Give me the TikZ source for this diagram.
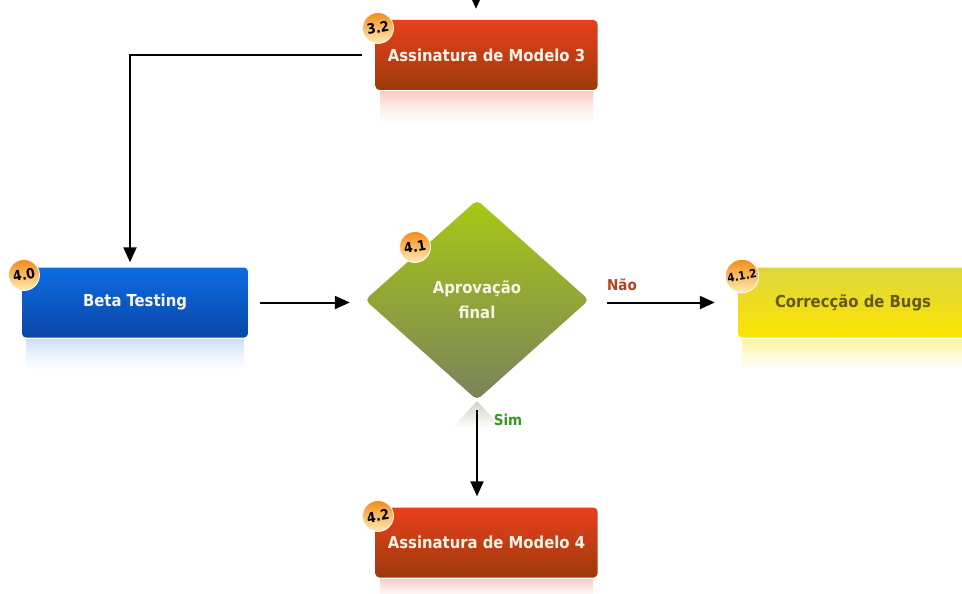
\documentclass[tikz,border=0pt]{standalone}
\usepackage{fontspec}
\setmainfont{DejaVu Sans Condensed}
\usetikzlibrary{shapes.geometric,arrows.meta}
\definecolor{redT}{RGB}{232,64,28}
\definecolor{redB}{RGB}{158,58,12}
\definecolor{bluT}{RGB}{12,108,226}
\definecolor{bluB}{RGB}{10,70,168}
\definecolor{yelT}{RGB}{222,214,64}
\definecolor{yelB}{RGB}{252,228,0}
\definecolor{grnT}{RGB}{168,200,20}
\definecolor{grnB}{RGB}{122,130,92}
\definecolor{txtW}{RGB}{250,244,232}
\definecolor{txtY}{RGB}{100,90,20}
\definecolor{naoC}{RGB}{184,64,26}
\definecolor{simC}{RGB}{58,154,32}
\definecolor{badT}{RGB}{242,140,24}
\definecolor{badB}{RGB}{255,236,180}
\tikzset{
  box/.style={rectangle, rounded corners=4pt, minimum width=222pt, minimum height=70pt,
    font=\fontsize{16.5}{19}\selectfont\bfseries, text=txtW, inner sep=0pt},
  redbox/.style={box, top color=redT, bottom color=redB},
  blubox/.style={box, top color=bluT, bottom color=bluB, minimum width=226pt},
  yelbox/.style={box, top color=yelT, bottom color=yelB, text=txtY},
  badge/.style={circle, minimum size=31pt, inner sep=0pt, top color=badT, bottom color=badB,
    draw=white, line width=0.8pt, font=\fontsize{14}{15}\selectfont\bfseries, text=black},
  conn/.style={line width=2pt, -{Triangle[length=15pt,width=13pt]}},
  lbl/.style={font=\fontsize{15}{17}\selectfont\bfseries},
}
\begin{document}
\begin{tikzpicture}[x=1pt,y=-1pt]
\useasboundingbox[fill=white] (0,0) rectangle (962,594);
% reflections
\shade[top color=redT!26, bottom color=white, middle color=redT!9] (380,92) rectangle (593,124);
\shade[top color=bluT!22, bottom color=white, middle color=bluT!7] (26,339) rectangle (244,371);
\shade[top color=yelB!40, bottom color=white, middle color=yelB!14] (742,339) rectangle (962,371);
\shade[top color=redT!26, bottom color=white, middle color=redT!9] (380,579) rectangle (593,600);
\shade[top color=grnB!35, bottom color=white] (477,401) -- (452,428) -- (502,428) -- cycle;
% nodes
\node[redbox] (m3) at (486.5,55) {Assinatura de Modelo 3};
\node[blubox] (beta) at (135,302.5) {Beta Testing};
\node[diamond, minimum width=224pt, minimum height=200pt, inner sep=0pt, aspect=1.12,
  top color=grnT, bottom color=grnB, rounded corners=5pt, align=center, text=txtW,
  font=\fontsize{16.5}{25}\selectfont\bfseries] (dec) at (477,300) {Aprovação\\final};
\node[yelbox, minimum width=230pt] (bugs) at (853,302.5) {Correcção de Bugs};
\node[redbox] (m4) at (486.5,542.5) {Assinatura de Modelo 4};
\coordinate (top) at (476,-20);
% badges
\node[badge] (b32) at (378,28) {\rotatebox{10}{3.2}};
\node[badge] (b40) at (24,275) {\rotatebox{10}{4.0}};
\node[badge] (b41) at (415,247) {\rotatebox{10}{4.1}};
\node[badge] (b412) at (742,276) {\rotatebox{10}{\fontsize{11.5}{12}\selectfont 4.1.2}};
\node[badge] (b42) at (378,516) {\rotatebox{10}{4.2}};
% connectors
\draw[conn, shorten >=11pt] (top) -- (top |- m3.north);
\draw[conn, shorten >=5pt] ([xshift=-13pt]m3.west) -| ([xshift=-5pt]beta.north);
\draw[conn, shorten <=12pt, shorten >=15pt] (beta.east) -- (dec.west |- beta.east);
\draw[conn, shorten <=18pt, shorten >=23pt] (dec.east |- bugs.west) -- (bugs.west);
\draw[conn, shorten <=10pt, shorten >=11pt] (dec.south) -- (dec.south |- m4.north);
% labels
\node[lbl, text=naoC] (nao) at (622,285) {Não};
\node[lbl, text=simC] (sim) at (508,420) {Sim};
\end{tikzpicture}
\end{document}
